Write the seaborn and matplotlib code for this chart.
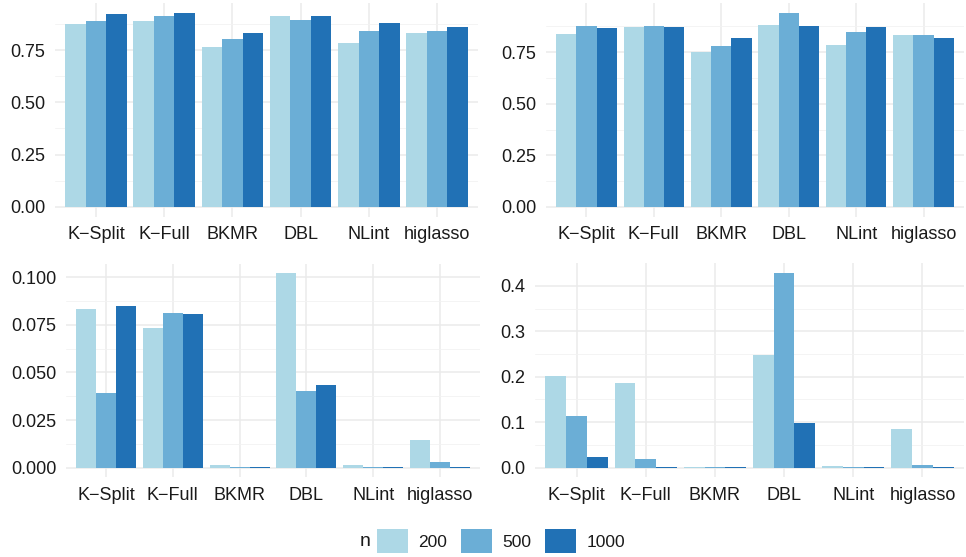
import matplotlib
matplotlib.use("Agg")
import matplotlib.pyplot as plt
import seaborn as sns
import pandas as pd
import numpy as np
from matplotlib.patches import Patch

cats = ["K\u2212Split", "K\u2212Full", "BKMR", "DBL", "NLint", "higlasso"]
ns = ["200", "500", "1000"]
colors = ["#ADD8E6", "#6BAED6", "#2171B5"]

tl_200 = [0.876, 0.889, 0.764, 0.913, 0.783, 0.831]
tl_500 = [0.889, 0.913, 0.803, 0.893, 0.841, 0.841]
tl_1000 = [0.922, 0.927, 0.831, 0.913, 0.879, 0.860]

tr_200 = [0.838, 0.872, 0.751, 0.882, 0.785, 0.833]
tr_500 = [0.877, 0.877, 0.780, 0.940, 0.848, 0.833]
tr_1000 = [0.867, 0.872, 0.819, 0.877, 0.872, 0.819]

bl_200 = [0.0832, 0.0733, 0.0014, 0.1021, 0.0013, 0.0145]
bl_500 = [0.0392, 0.0811, 0.0004, 0.0402, 0.0004, 0.0030]
bl_1000 = [0.0848, 0.0806, 0.0004, 0.0434, 0.0004, 0.0004]

br_200 = [0.2015, 0.186, 0.002, 0.2477, 0.004, 0.085]
br_500 = [0.1136, 0.019, 0.002, 0.428, 0.002, 0.006]
br_1000 = [0.0235, 0.002, 0.002, 0.098, 0.002, 0.002]

top_ticks = [0.0, 0.25, 0.50, 0.75]
top_labels = ["0.00", "0.25", "0.50", "0.75"]
bl_ticks = [0.0, 0.025, 0.05, 0.075, 0.1]
bl_labels = ["0.000", "0.025", "0.050", "0.075", "0.100"]
br_ticks = [0.0, 0.1, 0.2, 0.3, 0.4]
br_labels = ["0.0", "0.1", "0.2", "0.3", "0.4"]

sns.set_theme(style="white")
plt.rcParams["font.family"] = ["Liberation Sans", "DejaVu Sans"]

W, H = 966, 557
fig = plt.figure(figsize=(W / 100, H / 100), dpi=100)


def px_axes(x0, y0, x1, y1):
    return fig.add_axes([x0 / W, 1 - y1 / H, (x1 - x0) / W, (y1 - y0) / H])


panels = [
    ((55, 3.3, 478, 216.6), (tl_200, tl_500, tl_1000), top_ticks, top_labels),
    ((546, 3.3, 964, 216.6), (tr_200, tr_500, tr_1000), top_ticks, top_labels),
    ((66, 263.6, 480, 477.4), (bl_200, bl_500, bl_1000), bl_ticks, bl_labels),
    ((535, 263.4, 964, 477.4), (br_200, br_500, br_1000), br_ticks, br_labels),
]

for (box, series, ticks, labels) in panels:
    ax = px_axes(*box)
    df = pd.DataFrame({
        "method": cats * 3,
        "n": [ns[0]] * 6 + [ns[1]] * 6 + [ns[2]] * 6,
        "value": list(series[0]) + list(series[1]) + list(series[2]),
    })
    sns.barplot(data=df, x="method", y="value", hue="n", order=cats,
                hue_order=ns, palette=colors, width=0.9, gap=0,
                saturation=1, linewidth=0, errorbar=None, ax=ax, zorder=3)
    if ax.get_legend() is not None:
        ax.get_legend().remove()
    vmax = max(max(s) for s in series)
    ax.set_ylim(-0.05 * vmax, 1.05 * vmax)
    ax.set_xlim(-0.6, 5.6)
    ax.set_yticks(ticks)
    ax.set_yticklabels(labels)
    minor = [(ticks[i] + ticks[i + 1]) / 2 for i in range(len(ticks) - 1)]
    minor.append(ticks[-1] + (ticks[1] - ticks[0]) / 2)
    ax.set_yticks([m for m in minor if m <= 1.05 * vmax], minor=True)
    ax.set_xlabel("")
    ax.set_ylabel("")
    for s in ax.spines.values():
        s.set_visible(False)
    ax.grid(True, which="major", axis="both", color="#EBEBEB", lw=1.1, zorder=0)
    ax.grid(True, which="minor", axis="y", color="#F2F2F2", lw=0.6, zorder=0)
    ax.set_axisbelow(True)
    ax.tick_params(axis="both", which="both", length=0, labelsize=13,
                   labelcolor="#1A1A1A")
    ax.tick_params(axis="y", pad=7)
    ax.tick_params(axis="x", pad=7)
    ax.set_facecolor("white")

# legend
fig.text(360 / W, 1 - 541 / H, "n", fontsize=14, ha="left", va="center",
         color="#1A1A1A")
handles = [Patch(facecolor=c, edgecolor="none", label=l) for c, l in zip(colors, ns)]
fig.legend(handles=handles, loc="center left", bbox_to_anchor=(372 / W, 1 - 541 / H),
           ncol=3, frameon=False, fontsize=12.5, handlelength=1.75, handleheight=1.75,
           handletextpad=0.62, columnspacing=0.8, borderaxespad=0, borderpad=0.3,
           labelcolor="#1A1A1A")

fig.savefig("out.png", dpi=100, facecolor="white")
